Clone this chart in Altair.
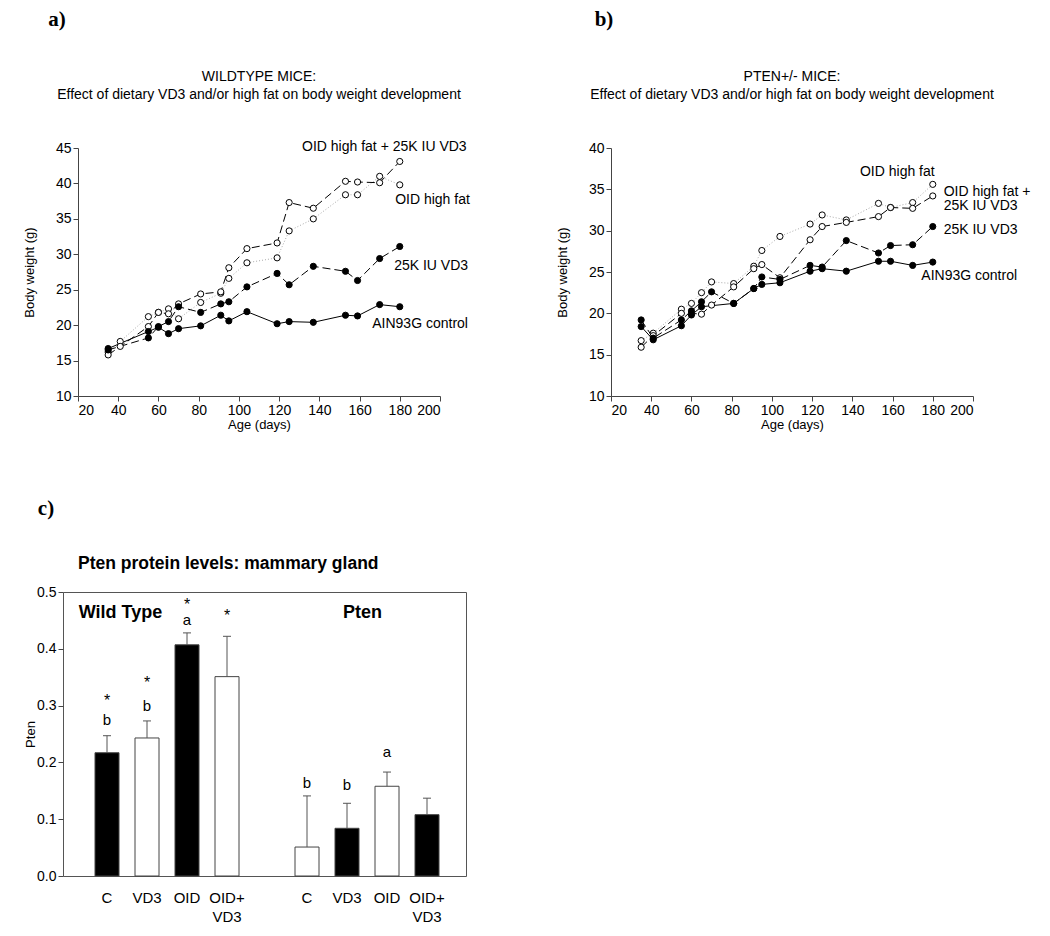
import altair as alt
import pandas as pd

FONT = "Liberation Sans"

# ---------------- data: panel a (wildtype) ----------------
ages = [35, 41, 55, 60, 65, 70, 81, 91, 95, 104, 119, 125, 137, 153, 159, 170, 180]

a_control = [16.7, None, 19.1, 19.7, 18.8, 19.5, 19.9, 21.4, 20.6, 21.9, 20.2, 20.5, 20.4, 21.4, 21.3, 22.9, 22.6]
a_vd3 = [16.5, None, 18.2, 19.8, 20.5, 22.6, 21.8, 23.0, 23.3, 25.4, 27.3, 25.7, 28.3, 27.6, 26.3, 29.4, 31.1]
a_oid = [16.2, 17.7, 21.2, 21.8, 22.3, 20.9, 23.2, 24.5, 26.6, 28.8, 29.5, 33.3, 35.0, 38.4, 38.4, 41.0, 39.8]
a_oidvd3 = [15.8, 17.0, 19.8, 21.8, 21.6, 23.0, 24.4, 24.7, 28.1, 30.8, 31.6, 37.3, 36.5, 40.3, 40.2, 40.1, 43.1]

# ---------------- data: panel b (PTEN+/-) ----------------
b_control = [18.4, 16.8, 18.5, 19.8, 20.8, None, 21.2, 23.0, 23.5, 23.7, 25.1, 25.4, 25.1, 26.3, 26.3, 25.8, 26.2]
b_vd3 = [19.2, 17.0, 19.2, 20.3, 21.4, 22.6, 21.2, 23.0, 24.4, 24.1, 25.8, 25.6, 28.8, 27.3, 28.2, 28.3, 30.5]
b_oid = [16.7, 17.6, 20.5, 21.2, 22.5, 23.8, 23.6, 25.7, 27.6, 29.3, 30.8, 31.9, 31.3, 33.3, 32.8, 33.4, 35.6]
b_oidvd3 = [15.9, 17.3, 20.0, 20.0, 19.9, 21.0, 23.2, 25.4, 25.9, 24.3, 28.9, 30.5, 31.0, 31.7, 32.8, 32.7, 34.2]

# series labels (text, age, weight)
a_label_text = ["OID high fat + 25K IU VD3", "OID high fat", "25K IU VD3", "AIN93G control"]
a_label_age = [131.4, 177.7, 177.2, 166.3]
a_label_wt = [45.2, 37.6, 28.3, 20.1]

b_label_text = ["OID high fat", "OID high fat +", "25K IU VD3", "25K IU VD3", "AIN93G control"]
b_label_age = [143.8, 185.4, 185.4, 185.4, 174.3]
b_label_wt = [37.1, 34.7, 33.0, 30.05, 24.5]

a_title = ["WILDTYPE MICE:", "Effect of dietary VD3 and/or high fat on body weight development"]
b_title = ["PTEN+/- MICE:", "Effect of dietary VD3 and/or high fat on body weight development"]

# ---------------- data: panel c (bars) ----------------
bar_pos = [0, 1, 2, 3, 5, 6, 7, 8]
bar_line1 = ["C", "VD3", "OID", "OID+", "C", "VD3", "OID", "OID+"]
bar_line2 = ["", "", "", "VD3", "", "", "", "VD3"]
bar_val = [0.217, 0.243, 0.407, 0.351, 0.051, 0.084, 0.158, 0.108]
bar_err = [0.030, 0.030, 0.021, 0.071, 0.090, 0.044, 0.025, 0.029]
bar_fill = ["black", "white", "black", "white", "white", "black", "white", "black"]

letter_pos = [0, 1, 2, 5, 6, 7]
letter_text = ["b", "b", "a", "b", "b", "a"]
letter_y = [0.274, 0.299, 0.450, 0.164, 0.160, 0.219]

star_pos = [0, 1, 2, 3]
star_y = [0.316, 0.346, 0.484, 0.464]

# ---------------- builders ----------------
STYLES = [
    ("oid", dict(color="#aaaaaa", strokeDash=[1, 2]), "white"),
    ("oidvd3", dict(color="black", strokeDash=[8, 4]), "white"),
    ("vd3", dict(color="black", strokeDash=[8, 4]), "black"),
    ("control", dict(color="black"), "black"),
]


def text_at(t, x, y, **kw):
    return alt.Chart(pd.DataFrame({"t": [t]})).mark_text(**kw).encode(
        x=alt.value(x), y=alt.value(y), text="t:N")


def line_panel(series, ydomain, yticks, title_lines, lab_text, lab_age, lab_wt, letter, letter_dx):
    rows = []
    for name, vals in series.items():
        for a, v in zip(ages, vals):
            if v is not None:
                rows.append({"age": a, "weight": v, "series": name})
    df = pd.DataFrame(rows)
    x = alt.X("age:Q", scale=alt.Scale(domain=[20, 200], nice=False),
              axis=alt.Axis(values=list(range(20, 201, 20)), title="Age (days)", grid=False,
                            titlePadding=1, labelOverlap=False))
    y = alt.Y("weight:Q", scale=alt.Scale(domain=ydomain, nice=False, zero=False),
              axis=alt.Axis(values=yticks, title="Body weight (g)", grid=False, titlePadding=19,
                            labelOverlap=False))
    lines = []
    points = []
    for name, lstyle, fill in STYLES:
        base = alt.Chart(df).transform_filter(alt.datum.series == name)
        lines.append(base.mark_line(strokeWidth=1, **lstyle).encode(x=x, y=y))
        points.append(base.mark_point(shape="circle", filled=True, fill=fill, stroke="black",
                                      strokeWidth=1, size=38, opacity=1).encode(x=x, y=y))
    ldf = pd.DataFrame({"age": lab_age, "weight": lab_wt, "text": lab_text})
    labels = alt.Chart(ldf).mark_text(align="left", baseline="middle", fontSize=14, font=FONT,
                                      color="black").encode(x=x, y=y, text="text:N")
    let = text_at(letter, letter_dx, -128, font="Liberation Serif", fontWeight="bold",
                  fontSize=21, baseline="middle", align="center")
    t1 = text_at(title_lines[0], 181, -71, font=FONT, fontSize=14, baseline="middle", align="center")
    t2 = text_at(title_lines[1], 181, -53, font=FONT, fontSize=14, baseline="middle", align="center")
    return alt.layer(*lines, *points, labels, let, t1, t2).properties(width=362, height=248)


chart_a = line_panel({"control": a_control, "vd3": a_vd3, "oid": a_oid, "oidvd3": a_oidvd3},
                     [10, 45], list(range(10, 46, 5)), a_title,
                     a_label_text, a_label_age, a_label_wt, "a)", -21)
chart_b = line_panel({"control": b_control, "vd3": b_vd3, "oid": b_oid, "oidvd3": b_oidvd3},
                     [10, 40], list(range(10, 41, 5)), b_title,
                     b_label_text, b_label_age, b_label_wt, "b)", -7)

# ---------------- bar panel ----------------
bdf = pd.DataFrame({"pos": bar_pos, "val": bar_val, "err": bar_err, "fill": bar_fill,
                    "l1": bar_line1, "l2": bar_line2})
bdf["x0"] = bdf["pos"] - 0.3
bdf["x1"] = bdf["pos"] + 0.3
bdf["zero"] = 0.0
bdf["top"] = bdf["val"] + bdf["err"]
bdf["c0"] = bdf["pos"] - 0.1
bdf["c1"] = bdf["pos"] + 0.1

xs = alt.Scale(domain=[-1.1, 8.975], nice=False, zero=False)
ys = alt.Scale(domain=[0, 0.5], nice=False)

bars = alt.Chart(bdf).mark_bar(stroke="#444", strokeWidth=1).encode(
    x=alt.X("x0:Q", scale=xs, axis=None), x2="x1:Q",
    y=alt.Y("val:Q", scale=ys,
            axis=alt.Axis(values=[0, 0.1, 0.2, 0.3, 0.4, 0.5], format=".1f", title="Pten",
                          grid=False, domain=False, titlePadding=-1, labelOverlap=False)),
    y2="zero:Q",
    fill=alt.Fill("fill:N", scale=None),
)
err = alt.Chart(bdf).mark_rule(color="#555", strokeWidth=1).encode(
    x=alt.X("pos:Q", scale=xs, axis=None), y=alt.Y("val:Q", scale=ys), y2="top:Q")
cap = alt.Chart(bdf).mark_rule(color="#555", strokeWidth=1).encode(
    x=alt.X("c0:Q", scale=xs, axis=None), x2="c1:Q", y=alt.Y("top:Q", scale=ys))
cat1 = alt.Chart(bdf).mark_text(fontSize=15, font=FONT, baseline="middle").encode(
    x=alt.X("pos:Q", scale=xs, axis=None), y=alt.value(306), text="l1:N")
cat2 = alt.Chart(bdf).mark_text(fontSize=15, font=FONT, baseline="middle").encode(
    x=alt.X("pos:Q", scale=xs, axis=None), y=alt.value(325), text="l2:N")

ldf = pd.DataFrame({"pos": letter_pos, "y": letter_y, "t": letter_text})
letters = alt.Chart(ldf).mark_text(fontSize=15, font=FONT, baseline="middle").encode(
    x=alt.X("pos:Q", scale=xs, axis=None), y=alt.Y("y:Q", scale=ys), text="t:N")
sdf = pd.DataFrame({"pos": star_pos, "y": star_y, "t": ["*"] * len(star_pos)})
stars = alt.Chart(sdf).mark_text(fontSize=16, font=FONT, baseline="middle", dy=4).encode(
    x=alt.X("pos:Q", scale=xs, axis=None), y=alt.Y("y:Q", scale=ys), text="t:N")

ann_wt = text_at("Wild Type", 15.7, 21, fontSize=18, font=FONT, fontWeight="bold",
                 align="left", baseline="middle")
ann_pt = text_at("Pten", 280, 21, fontSize=18, font=FONT, fontWeight="bold",
                 align="left", baseline="middle")
ctitle = text_at("Pten protein levels: mammary gland", 15, -28, fontSize=17.5, font=FONT,
                 fontWeight="bold", align="left", baseline="middle")
cletter = text_at("c)", -17, -83, font="Liberation Serif", fontWeight="bold", fontSize=21,
                  baseline="middle", align="center")

chart_c = alt.layer(bars, err, cap, cat1, cat2, letters, stars, ann_wt, ann_pt, ctitle, cletter).properties(
    width=403, height=284, view=alt.ViewBackground(stroke="#555", strokeWidth=1))


def spacer(w):
    return alt.Chart(pd.DataFrame({"v": [0]})).mark_point(opacity=0).encode(
        x=alt.value(0), y=alt.value(0)).properties(width=w, height=248)


top = alt.hconcat(spacer(15), chart_a, spacer(171), chart_b, spacing=0, bounds="flush")
chart = alt.vconcat(top, chart_c, spacing=444, bounds="flush").properties(
    padding={"left": 15, "top": 1, "right": 2, "bottom": 2}
).configure_view(strokeWidth=0).configure_axis(
    labelFont=FONT, titleFont=FONT, labelFontSize=14, titleFontSize=13, titleFontWeight="normal",
    labelColor="black", titleColor="black", domainColor="#444", tickColor="#444", tickSize=5,
    labelPadding=2,
)

chart.save("out.html", embed_options={"renderer": "svg", "actions": False})
